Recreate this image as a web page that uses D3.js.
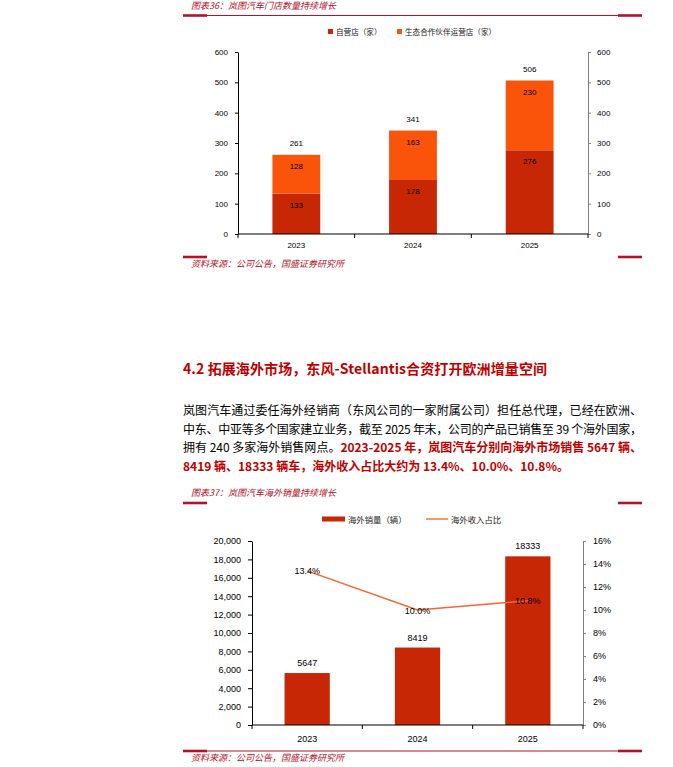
<!DOCTYPE html>
<html>
<head>
<meta charset="utf-8">
<script src="https://cdn.jsdelivr.net/npm/d3@7"></script>
<style>
  body { margin: 0; background: #fff; }
  svg { display: block; }
  text { font-family: "Liberation Sans", Arial, sans-serif; }
  .cjk { font-family: "Noto Sans CJK SC", sans-serif; }
</style>
</head>
<body>
<div id="page"></div>
<script>
// chart 36: store counts
const years = ["2023", "2024", "2025"];
const ownStores = [133, 178, 276];
const partnerStores = [128, 163, 230];
const storeTicks = [0, 100, 200, 300, 400, 500, 600];

// chart 37: overseas sales
const overseasSales = [5647, 8419, 18333];
const overseasShare = [0.134, 0.100, 0.108];
const salesTicks = [0, 2000, 4000, 6000, 8000, 10000, 12000, 14000, 16000, 18000, 20000];
const shareTicks = [0, 0.02, 0.04, 0.06, 0.08, 0.10, 0.12, 0.14, 0.16];

const paraLines = [
  [["岚图汽车通过委任海外经销商（东风公司的一家附属公司）担任总代理，已经在欧洲、", false]],
  [["中东、中亚等多个国家建立业务，截至 2025 年末，公司的产品已销售至 39 个海外国家，", false]],
  [["拥有 240 多家海外销售网点。", false], ["2023-2025 年，岚图汽车分别向海外市场销售 5647 辆、", true]],
  [["8419 辆、18333 辆车，海外收入占比大约为 13.4%、10.0%、10.8%。", true]]
];

const W = 673, H = 767;
const RED = "#B3122A", DARK = "#C82706", ORANGE = "#F95409";

const svg = d3.select("#page").append("svg")
    .attr("width", W)
    .attr("height", H);

// red rule with thick ends, as used above and below each exhibit
function rule(y, full) {
  if (full) {
    svg.append("line")
      .attr("x1", 183).attr("x2", 642).attr("y1", y).attr("y2", y)
      .attr("stroke", RED).attr("stroke-width", 1.2);
  }
  [[183, 207], [618, 642]].forEach(s => {
    svg.append("line")
      .attr("x1", s[0]).attr("x2", s[1]).attr("y1", y).attr("y2", y)
      .attr("stroke", RED).attr("stroke-width", 2.6);
  });
}

function caption(txt, y) {
  svg.append("text")
    .attr("class", "cjk")
    .attr("x", 191).attr("y", y)
    .attr("font-size", 9).attr("font-style", "italic")
    .attr("fill", RED)
    .text(txt);
}

// ---------- chart 36 ----------
caption("图表36：岚图汽车门店数量持续增长", 9);
rule(15.5, true);

const x1 = d3.scaleBand().domain(years).range([238, 588]);
const y1 = d3.scaleLinear().domain([0, 600]).range([234, 52]);
const bw1 = x1.bandwidth() * 0.41;

const g1 = svg.append("g");

g1.selectAll(".own").data(years).join("rect")
  .attr("x", d => x1(d) + (x1.bandwidth() - bw1) / 2)
  .attr("width", bw1)
  .attr("y", (d, i) => y1(ownStores[i]))
  .attr("height", (d, i) => y1(0) - y1(ownStores[i]))
  .attr("fill", DARK);

g1.selectAll(".partner").data(years).join("rect")
  .attr("x", d => x1(d) + (x1.bandwidth() - bw1) / 2)
  .attr("width", bw1)
  .attr("y", (d, i) => y1(ownStores[i] + partnerStores[i]))
  .attr("height", (d, i) => y1(0) - y1(partnerStores[i]))
  .attr("fill", ORANGE);

const mid1 = d => x1(d) + x1.bandwidth() / 2;
g1.selectAll(".lo").data(years).join("text")
  .attr("x", mid1).attr("y", (d, i) => y1(ownStores[i]) + 14)
  .attr("text-anchor", "middle").attr("font-size", 8)
  .text((d, i) => ownStores[i]);
g1.selectAll(".hi").data(years).join("text")
  .attr("x", mid1).attr("y", (d, i) => y1(ownStores[i] + partnerStores[i]) + 14)
  .attr("text-anchor", "middle").attr("font-size", 8)
  .text((d, i) => partnerStores[i]);
g1.selectAll(".tot").data(years).join("text")
  .attr("x", mid1).attr("y", (d, i) => y1(ownStores[i] + partnerStores[i]) - 9)
  .attr("text-anchor", "middle").attr("font-size", 8)
  .text((d, i) => ownStores[i] + partnerStores[i]);

function styleAxis(g, color, size) {
  g.select(".domain").attr("stroke", color);
  g.selectAll(".tick line").attr("stroke", color);
  g.selectAll(".tick text").attr("fill", "#000").attr("font-size", size)
    .attr("font-family", "Liberation Sans, Arial, sans-serif");
}

svg.append("g").attr("transform", "translate(238,0)")
  .call(d3.axisLeft(y1).tickValues(storeTicks).tickSize(3).tickSizeOuter(0).tickPadding(7))
  .call(g => styleAxis(g, "#000", 8));
svg.append("g").attr("transform", "translate(588,0)")
  .call(d3.axisRight(y1).tickValues(storeTicks).tickSize(3).tickSizeOuter(0).tickPadding(6))
  .call(g => styleAxis(g, "#808080", 8));

function bottomAxis(x, y0, labelY, size) {
  const g = svg.append("g");
  g.append("line")
    .attr("x1", x.range()[0]).attr("x2", x.range()[1])
    .attr("y1", y0).attr("y2", y0)
    .attr("stroke", "#000").attr("stroke-width", 1.2);
  const edges = x.domain().map(d => x(d)).concat([x.range()[1]]);
  g.selectAll(".edge").data(edges).join("line")
    .attr("x1", d => d).attr("x2", d => d)
    .attr("y1", y0).attr("y2", y0 + 4)
    .attr("stroke", "#000");
  g.selectAll(".lab").data(x.domain()).join("text")
    .attr("x", d => x(d) + x.bandwidth() / 2).attr("y", labelY)
    .attr("text-anchor", "middle").attr("font-size", size)
    .text(d => d);
}
bottomAxis(x1, 234, 248, 8);

// legend 36
const leg1 = [["自营店（家）", DARK, 328], ["生态合作伙伴运营店（家）", ORANGE, 397]];
leg1.forEach(l => {
  svg.append("rect").attr("x", l[2]).attr("y", 29).attr("width", 5).attr("height", 5).attr("fill", l[1]);
  svg.append("text").attr("class", "cjk").attr("x", l[2] + 8).attr("y", 34.5)
    .attr("font-size", 7.6).attr("fill", "#222").text(l[0]);
});

rule(257, false);
caption("资料来源：公司公告，国盛证券研究所", 267);

// ---------- heading and paragraph ----------
svg.append("text")
  .attr("class", "cjk")
  .attr("x", 183).attr("y", 374)
  .attr("font-size", 14).attr("font-weight", "bold")
  .attr("fill", "#C00000")
  .attr("textLength", 364).attr("lengthAdjust", "spacing")
  .text("4.2 拓展海外市场，东风-Stellantis合资打开欧洲增量空间");

paraLines.forEach((line, i) => {
  const t = svg.append("text")
    .attr("class", "cjk")
    .attr("x", 183).attr("y", 415 + i * 18.6)
    .attr("font-size", 12);
  if (i < 3) t.attr("textLength", 459).attr("lengthAdjust", "spacing");
  line.forEach(seg => {
    t.append("tspan")
      .attr("fill", seg[1] ? "#C00000" : "#000")
      .attr("font-weight", seg[1] ? "bold" : "normal")
      .text(seg[0]);
  });
});

// ---------- chart 37 ----------
caption("图表37：岚图汽车海外销量持续增长", 496);
rule(503, false);

const x2 = d3.scaleBand().domain(years).range([252, 583]);
const y2 = d3.scaleLinear().domain([0, 20000]).range([725, 541]);
const y2r = d3.scaleLinear().domain([0, 0.16]).range([725, 541]);
const bw2 = x2.bandwidth() * 0.41;
const mid2 = d => x2(d) + x2.bandwidth() / 2;

svg.selectAll(".sale").data(years).join("rect")
  .attr("x", d => x2(d) + (x2.bandwidth() - bw2) / 2)
  .attr("width", bw2)
  .attr("y", (d, i) => y2(overseasSales[i]))
  .attr("height", (d, i) => y2(0) - y2(overseasSales[i]))
  .attr("fill", DARK);

svg.selectAll(".saleLab").data(years).join("text")
  .attr("x", mid2).attr("y", (d, i) => y2(overseasSales[i]) - 7)
  .attr("text-anchor", "middle").attr("font-size", 9)
  .text((d, i) => overseasSales[i]);

const line = d3.line()
  .x(d => mid2(d))
  .y((d, i) => y2r(overseasShare[i]));

svg.append("path")
  .datum(years)
  .attr("fill", "none")
  .attr("stroke", "#F96432")
  .attr("stroke-width", 1.5)
  .attr("d", line);

svg.selectAll(".shareLab").data(years).join("text")
  .attr("x", mid2).attr("y", (d, i) => y2r(overseasShare[i]) + 3.5)
  .attr("text-anchor", "middle").attr("font-size", 9)
  .text((d, i) => d3.format(".1%")(overseasShare[i]));

svg.append("g").attr("transform", "translate(252,0)")
  .call(d3.axisLeft(y2).tickValues(salesTicks).tickFormat(d3.format(",")).tickSize(4).tickSizeOuter(0).tickPadding(7))
  .call(g => styleAxis(g, "#000", 9));
svg.append("g").attr("transform", "translate(583,0)")
  .call(d3.axisRight(y2r).tickValues(shareTicks).tickFormat(d3.format(".0%")).tickSize(3).tickSizeOuter(0).tickPadding(7))
  .call(g => styleAxis(g, "#808080", 9));

bottomAxis(x2, 725, 742, 9);

// legend 37
svg.append("rect").attr("x", 322).attr("y", 516.5).attr("width", 23).attr("height", 5).attr("fill", DARK);
svg.append("text").attr("class", "cjk").attr("x", 348).attr("y", 522.5)
  .attr("font-size", 8.4).attr("fill", "#222").text("海外销量（辆）");
svg.append("line").attr("x1", 426).attr("x2", 448).attr("y1", 519).attr("y2", 519)
  .attr("stroke", ORANGE).attr("stroke-width", 1.2);
svg.append("text").attr("class", "cjk").attr("x", 451).attr("y", 522.5)
  .attr("font-size", 8.4).attr("fill", "#222").text("海外收入占比");

rule(751, true);
caption("资料来源：公司公告，国盛证券研究所", 761);
</script>
</body>
</html>
